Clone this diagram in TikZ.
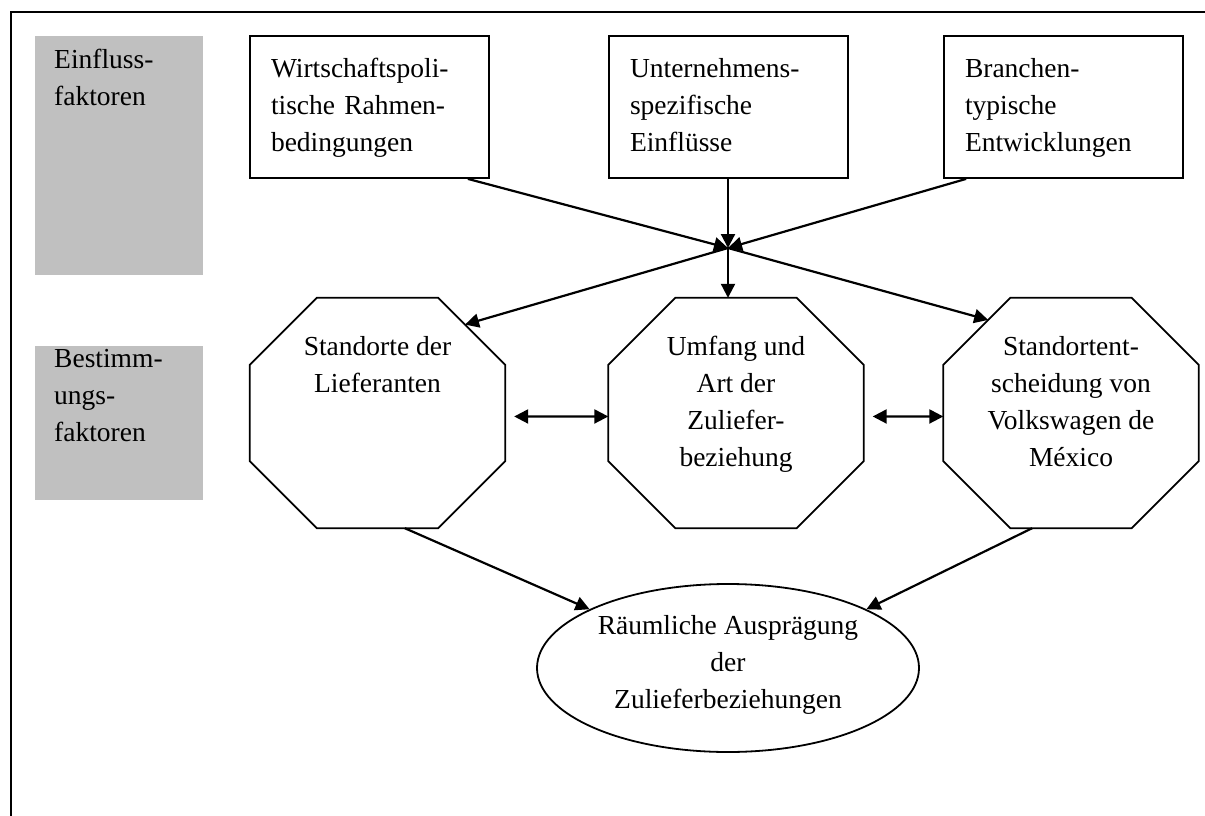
\documentclass[tikz,border=0pt]{standalone}
\usepackage{fontspec}
\setmainfont{Liberation Serif}
\usetikzlibrary{arrows.meta,shapes.geometric}
\definecolor{shade}{HTML}{C0C0C0}
% octagon outline around a rectangular node, with named points on its edges
\newcommand\drawoctagon[1]{%
  \draw[octline] ([xshift=67pt]#1.north west) -- ([xshift=-67pt]#1.north east)
    -- coordinate[pos=0.4] (#1-ne) ([yshift=-67pt]#1.north east)
    -- coordinate[pos=0.536] (#1-e) ([yshift=67pt]#1.south east)
    -- ([xshift=-67pt]#1.south east)
    -- coordinate[pos=0.275] (#1-s1) coordinate[pos=0.82] (#1-s2) ([xshift=67pt]#1.south west)
    -- ([yshift=67pt]#1.south west)
    -- coordinate[pos=0.464] (#1-w) ([yshift=-67pt]#1.north west)
    -- coordinate[pos=0.67] (#1-nw) cycle;}
\begin{document}
\begin{tikzpicture}[x=1pt,y=-1pt,
  every node/.style={font=\fontsize{27.5}{37}\selectfont},
  strutted/.style={execute at begin node=\strut, execute at end node=\strut},
  factorbox/.style={draw, line width=1.8pt, minimum width=239pt, minimum height=142pt,
    text width=197pt, inner xsep=21pt, inner ysep=0pt, align=left, strutted},
  graybox/.style={fill=shade, draw=none, inner sep=0pt},
  graylabel/.style={anchor=north west, inner sep=0pt, align=left, strutted},
  octagon/.style={rectangle, draw=none, minimum width=255pt, minimum height=230pt, inner sep=0pt},
  octline/.style={line width=1.8pt, line join=miter},
  octlabel/.style={anchor=north, inner sep=0pt, align=center, strutted},
  tip/.tip={Triangle[length=14pt,width=14pt]},
  arr/.style={line width=2.2pt, -tip},
  dblarr/.style={line width=2.2pt, tip-tip}
]
\useasboundingbox (0,0) rectangle (1205,816);

% outer frame (top and left edges)
\draw[line width=2.5pt] (11,816) -- (11,12) -- (1205,12);

% grey row labels
\node[graybox, minimum width=168pt, minimum height=239pt] (g1) at (119,155.5) {};
\node[graylabel] (g1t) at (54,49) {Einfluss-\\faktoren};
\node[graybox, minimum width=168pt, minimum height=154pt] (g2) at (119,423) {};
\node[graylabel] (g2t) at (54,349) {Bestimm-\\ungs-\\faktoren};

% influencing factors
\node[factorbox] (b1) at (369.5,107) {Wirtschaftspoli-\\tische Rahmen-\\bedingungen};
\node[factorbox] (b2) at (728.5,107) {Unternehmens-\\spezifische\\Einflüsse};
\node[factorbox] (b3) at (1063.5,107) {Branchen-\\typische\\Entwicklungen};

% determining factors
\node[octagon] (o1) at (377.5,413) {};
\drawoctagon{o1}
\node[octlabel] (o1t) at ([yshift=-38pt]o1.north) {Standorte der\\Lieferanten};
\node[octagon] (o2) at (736,413) {};
\drawoctagon{o2}
\node[octlabel] (o2t) at ([yshift=-38pt]o2.north) {Umfang und\\Art der\\Zuliefer-\\beziehung};
\node[octagon] (o3) at (1071,413) {};
\drawoctagon{o3}
\node[octlabel] (o3t) at ([yshift=-38pt]o3.north) {Standortent-\\scheidung von\\Volkswagen de\\México};

% result
\node[draw, ellipse, line width=1.8pt, minimum width=382pt, minimum height=168pt,
  inner sep=0pt, align=center, strutted] (e) at (728,668)
  {Räumliche Ausprägung\\der\\Zulieferbeziehungen};

% connectors
\coordinate (J) at (728,248);
\draw[arr] ([xshift=-22pt]b1.south east) -- (J);
\draw[arr] (J |- b2.south) -- (J);
\draw[arr] ([xshift=23pt]b3.south west) -- (J);
\draw[arr] (J) -- (o1-ne);
\draw[arr] (J) -- (J |- o2.north);
\draw[arr] (J) -- (o3-nw);
\draw[dblarr, shorten <=9pt] (o1-e) -- (o2-w);
\draw[dblarr, shorten <=9pt] (o2-e) -- (o3-w);
\draw[arr] (o1-s1) -- (e.157);
\draw[arr] (o3-s2) -- (e.23);
\end{tikzpicture}
\end{document}
